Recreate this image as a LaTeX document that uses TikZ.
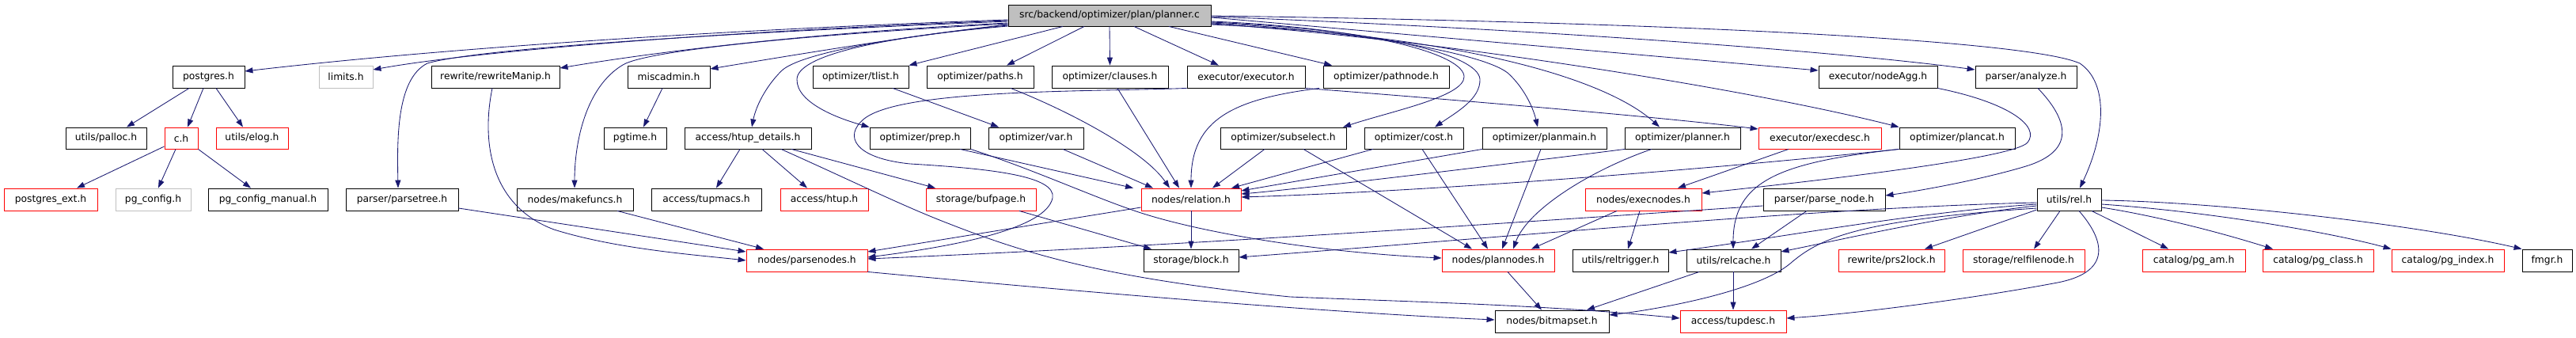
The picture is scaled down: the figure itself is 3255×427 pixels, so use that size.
\documentclass[tikz,border=0pt]{standalone}
\usepackage{fontspec}
\setmainfont{DejaVu Sans}
\usetikzlibrary{arrows.meta,calc}
\definecolor{edgecol}{HTML}{191970}
\definecolor{grayb}{HTML}{BFBFBF}
\definecolor{redb}{HTML}{FF0000}
\begin{document}
\begin{tikzpicture}[x=1pt,y=-1pt,
  box/.style={draw=black, line width=0.9pt, minimum height=28pt, inner sep=0pt,
    font=\fontsize{12.3}{14}\selectfont, text=black, anchor=center},
  redbox/.style={box, draw=redb},
  graybox/.style={box, draw=grayb},
  rootbox/.style={box, fill=grayb, minimum height=27pt},
  edge/.style={draw=edgecol, line width=0.85pt, -{Triangle[length=10pt,width=7pt]}}]
\useasboundingbox (0,0) rectangle (3255,427);
% row 0
\node[rootbox, minimum width=256pt] (root) at (1402,19.5) {src/backend/optimizer/plan/planner.c};
% row 1
\node[box, minimum width=91pt] (postgres) at (263.5,97) {postgres.h};
\node[graybox, minimum width=68pt] (limits) at (437,97) {limits.h};
\node[box, minimum width=162pt] (rewriteManip) at (626,97) {rewrite/rewriteManip.h};
\node[box, minimum width=104pt] (miscadmin) at (845,97) {miscadmin.h};
\node[box, minimum width=121pt] (tlist) at (1087.5,97) {optimizer/tlist.h};
\node[box, minimum width=135pt] (paths) at (1238.5,97) {optimizer/paths.h};
\node[box, minimum width=147pt] (clauses) at (1402.5,97) {optimizer/clauses.h};
\node[box, minimum width=149pt] (executor) at (1574.5,97) {executor/executor.h};
\node[box, minimum width=159pt] (pathnode) at (1751.5,97) {optimizer/pathnode.h};
\node[box, minimum width=150pt] (nodeAgg) at (2373,97) {executor/nodeAgg.h};
\node[box, minimum width=128pt] (analyze) at (2560,97) {parser/analyze.h};
% row 2
\tikzset{r2/.style={minimum height=27pt}}
\node[box, r2, minimum width=102pt] (palloc) at (134,174.5) {utils/palloc.h};
\node[redbox, r2, minimum width=42pt] (ch) at (229,174.5) {c.h};
\node[redbox, r2, minimum width=91pt] (elog) at (318.5,174.5) {utils/elog.h};
\node[box, r2, minimum width=79pt] (pgtime) at (802.5,174.5) {pgtime.h};
\node[box, r2, minimum width=160pt] (htupd) at (945,174.5) {access/htup\_details.h};
\node[box, r2, minimum width=127pt] (prep) at (1162.5,174.5) {optimizer/prep.h};
\node[box, r2, minimum width=120pt] (var) at (1309,174.5) {optimizer/var.h};
\node[box, r2, minimum width=159pt] (subselect) at (1621.5,174.5) {optimizer/subselect.h};
\node[box, r2, minimum width=125pt] (cost) at (1786.5,174.5) {optimizer/cost.h};
\node[box, r2, minimum width=157pt] (planmain) at (1951.5,174.5) {optimizer/planmain.h};
\node[box, r2, minimum width=146pt] (planner) at (2126,174.5) {optimizer/planner.h};
\node[redbox, r2, minimum width=155pt] (execdesc) at (2299.5,174.5) {executor/execdesc.h};
\node[box, r2, minimum width=146pt] (plancat) at (2473,174.5) {optimizer/plancat.h};
% row 3
\node[redbox, minimum width=118pt] (pgext) at (64,252) {postgres\_ext.h};
\node[graybox, minimum width=95pt] (pgconfig) at (193.5,252) {pg\_config.h};
\node[box, minimum width=151pt] (pgcfgman) at (338.5,252) {pg\_config\_manual.h};
\node[box, minimum width=142pt] (parsetree) at (508,252) {parser/parsetree.h};
\node[box, minimum width=147pt] (makefuncs) at (726.5,252) {nodes/makefuncs.h};
\node[box, minimum width=139pt] (tupmacs) at (892.5,252) {access/tupmacs.h};
\node[redbox, minimum width=111pt] (htup) at (1041.5,252) {access/htup.h};
\node[redbox, minimum width=139pt] (bufpage) at (1239.5,252) {storage/bufpage.h};
\node[redbox, minimum width=126pt] (relation) at (1505,252) {nodes/relation.h};
\node[redbox, minimum width=147pt] (execnodes) at (2076.5,252) {nodes/execnodes.h};
\node[box, minimum width=154pt] (parsenode) at (2305,252) {parser/parse\_node.h};
\node[box, minimum width=81pt] (rel) at (2614.5,252) {utils/rel.h};
% row 4
\node[redbox, minimum width=153pt] (parsenodes) at (1019.5,329) {nodes/parsenodes.h};
\node[box, minimum width=120pt] (block) at (1505,329) {storage/block.h};
\node[redbox, minimum width=142pt] (plannodes) at (1893,329) {nodes/plannodes.h};
\node[box, minimum width=121pt] (reltrigger) at (2047.5,329) {utils/reltrigger.h};
\node[box, minimum width=119pt] (relcache) at (2190.5,329) {utils/relcache.h};
\node[redbox, minimum width=134pt] (prs2lock) at (2390,329) {rewrite/prs2lock.h};
\node[redbox, minimum width=154pt] (relfilenode) at (2557,329) {storage/relfilenode.h};
\node[redbox, minimum width=130pt] (pgam) at (2772,329) {catalog/pg\_am.h};
\node[redbox, minimum width=140pt] (pgclass) at (2929,329) {catalog/pg\_class.h};
\node[redbox, minimum width=142pt] (pgindex) at (3093,329) {catalog/pg\_index.h};
\node[box, minimum width=63pt] (fmgr) at (3218.5,329) {fmgr.h};
% row 5
\node[box, minimum width=144pt] (bitmapset) at (1961,406) {nodes/bitmapset.h};
\node[redbox, minimum width=134pt] (tupdesc) at (2190,406) {access/tupdesc.h};

% ---- root, left side
\draw[edge] (root.west |- 0,25) .. controls (900,38) and (550,62) .. (postgres.east |- 0,90);
\draw[edge] (root.west |- 0,26) .. controls (900,40) and (600,65) .. (limits.east |- 0,88);
\draw[edge] (root.west |- 0,27) .. controls (900,42) and (600,62) .. (540,80) .. controls (500,100) and (502,180) .. (parsetree.north -| 503,0);
\draw[edge] (root.west |- 0,29) .. controls (1050,40) and (850,62) .. (rewriteManip.east |- 0,86);
\draw[edge] (root.west |- 0,30) .. controls (1050,42) and (820,62) .. (787,82) .. controls (740,110) and (726,180) .. (makefuncs.north -| 726,0);
\draw[edge] (root.west |- 0,31) .. controls (1150,45) and (1000,70) .. (miscadmin.east |- 0,87);
\draw[edge] (root.west |- 0,32) .. controls (1150,44) and (1010,66) .. (987,90) .. controls (967,110) and (955,135) .. (htupd.north -| 950,0);
\draw[edge] (root.west |- 0,33) .. controls (1100,48) and (1008,72) .. (1007,100) .. controls (1006,130) and (1060,150) .. (prep.north west);
% ---- root, bottom
\draw[edge] (root.south -| 1343,0) -- (tlist.north east);
\draw[edge] (root.south -| 1370,0) -- (paths.north -| 1272,0);
\draw[edge] (root.south) -- (clauses.north);
\draw[edge] (root.south -| 1433,0) -- (executor.north -| 1540,0);
\draw[edge] (root.south -| 1477,0) -- (pathnode.north -| 1683,0);
% ---- root, right side
\draw[edge] (root.east |- 0,22) -- (nodeAgg.west |- 0,89);
\draw[edge] (root.east |- 0,21) .. controls (1900,35) and (2300,62) .. (analyze.west |- 0,88);
\draw[edge] (root.east |- 0,20) .. controls (2100,28) and (2560,50) .. (2628,80) .. controls (2665,105) and (2660,170) .. (rel.north -| 2628,0);
\draw[edge] (root.east |- 0,30) .. controls (1800,48) and (2200,110) .. (plancat.north west);
\draw[edge] (root.east |- 0,31) .. controls (1850,45) and (2030,100) .. (planner.north -| 2097,0);
\draw[edge] (root.east |- 0,29) .. controls (1700,38) and (1870,65) .. (1905,92) .. controls (1925,110) and (1937,135) .. (planmain.north -| 1943,0);
\draw[edge] (root.east |- 0,28) .. controls (1750,38) and (1868,70) .. (1870,100) .. controls (1871,125) and (1840,142) .. (cost.north -| 1813,0);
\draw[edge] (root.east |- 0,27) .. controls (1740,36) and (1850,70) .. (1850,97) .. controls (1850,122) and (1760,140) .. (subselect.north -| 1697,0);
% ---- postgres.h, c.h, miscadmin.h
\draw[edge] (postgres.south -| 239,0) -- (palloc.north -| 160,0);
\draw[edge] (postgres.south -| 257,0) -- (ch.north -| 237,0);
\draw[edge] (postgres.south -| 273,0) -- (elog.north -| 307,0);
\draw[edge] (ch.west |- 0,185) -- (pgext.north -| 97,0);
\draw[edge] (ch.south -| 222,0) -- (pgconfig.north -| 200,0);
\draw[edge] (ch.south east) -- (pgcfgman.north -| 317,0);
\draw[edge] (miscadmin.south -| 837,0) -- (pgtime.north -| 813,0);
% ---- parsenodes sources
\draw[edge] (parsetree.east |- 0,263) -- (parsenodes.west |- 0,318);
\draw[edge] (makefuncs.south -| 780,0) -- (parsenodes.north -| 965,0);
\draw[edge] (rewriteManip.south -| 622,0) .. controls (608,180) and (620,260) .. (700,290) .. controls (780,315) and (880,322) .. (parsenodes.west |- 0,329);
% ---- htup_details
\draw[edge] (htupd.south -| 935,0) -- (tupmacs.north -| 905,0);
\draw[edge] (htupd.south -| 963,0) -- (htup.north -| 1020,0);
\draw[edge] (htupd.south -| 1000,0) -- (bufpage.north -| 1182,0);
\draw[edge] (htupd.south -| 987,0) .. controls (1080,230) and (1140,260) .. (1200,283) .. controls (1300,322) and (1400,352) .. (1630,375) .. controls (1800,382) and (1950,385) .. (tupdesc.west |- 0,402);
% ---- executor
\draw[edge] (executor.south east) .. controls (1850,127) and (2100,148) .. (execdesc.west |- 0,163);
\draw[edge] (executor.south west) .. controls (1380,116) and (1140,112) .. (1092,150) .. controls (1065,172) and (1080,200) .. (1150,207) .. controls (1250,213) and (1335,222) .. (1330,250) .. controls (1322,290) and (1200,312) .. (parsenodes.east |- 0,325);
% ---- optimizer headers
\draw[edge] (tlist.south -| 1128,0) -- (var.north -| 1262,0);
\draw[edge] (paths.south -| 1277,0) .. controls (1350,140) and (1445,190) .. (relation.north -| 1478,0);
\draw[edge] (var.south -| 1343,0) -- (relation.north -| 1457,0);
\draw[edge] (prep.south -| 1213,0) -- (relation.north -| 1432,0);
\draw[edge] (prep.south east) .. controls (1300,212) and (1380,248) .. (1430,265) .. controls (1500,290) and (1650,318) .. (plannodes.west |- 0,326);
\draw[edge] (clauses.south -| 1412,0) -- (relation.north -| 1490,0);
\draw[edge] (pathnode.south -| 1667,0) .. controls (1560,125) and (1505,150) .. (relation.north -| 1505,0);
\draw[edge] (subselect.south -| 1598,0) -- (relation.north -| 1532,0);
\draw[edge] (cost.south -| 1735,0) -- (relation.north -| 1556,0);
\draw[edge] (planmain.south -| 1873,0) -- (relation.east |- 0,241);
\draw[edge] (planner.south -| 2053,0) .. controls (1900,208) and (1650,238) .. (relation.east |- 0,245);
\draw[edge] (plancat.south west) .. controls (2150,215) and (1800,242) .. (relation.east |- 0,249);
\draw[edge] (plancat.south west) .. controls (2250,205) and (2190,228) .. (relcache.north -| 2190,0);
\draw[edge] (subselect.south -| 1647,0) -- (plannodes.north -| 1860,0);
\draw[edge] (cost.south -| 1797,0) -- (plannodes.north -| 1880,0);
\draw[edge] (planmain.south -| 1947,0) -- (plannodes.north -| 1898,0);
\draw[edge] (planner.south -| 2087,0) .. controls (2010,215) and (1930,265) .. (plannodes.north -| 1912,0);
% ---- executor nodes
\draw[edge] (execnodes.south -| 2043,0) -- (plannodes.north -| 1935,0);
\draw[edge] (execnodes.south -| 2072,0) -- (reltrigger.north -| 2057,0);
\draw[edge] (execdesc.south -| 2260,0) -- (execnodes.north -| 2120,0);
\draw[edge] (nodeAgg.south east) .. controls (2540,130) and (2578,160) .. (2562,180) .. controls (2545,200) and (2300,228) .. (execnodes.east |- 0,244);
% ---- parser
\draw[edge] (analyze.south -| 2575,0) .. controls (2612,150) and (2625,190) .. (2560,210) .. controls (2500,228) and (2420,242) .. (parsenode.east |- 0,247);
\draw[edge] (parsenode.west |- 0,260) .. controls (1900,282) and (1500,310) .. (parsenodes.east |- 0,327);
\draw[edge] (parsenode.south -| 2283,0) -- (relcache.north -| 2213,0);
% ---- relation, bufpage, parsenodes, plannodes, relcache
\draw[edge] (relation.west |- 0,262) -- (parsenodes.east |- 0,318);
\draw[edge] (relation.south) -- (block.north);
\draw[edge] (bufpage.south -| 1288,0) -- (block.north -| 1455,0);
\draw[edge] (parsenodes.south east) .. controls (1400,372) and (1700,396) .. (bitmapset.west |- 0,404);
\draw[edge] (plannodes.south -| 1905,0) -- (bitmapset.north -| 1948,0);
\draw[edge] (relcache.south -| 2147,0) -- (bitmapset.north -| 2005,0);
\draw[edge] (relcache.south -| 2190,0) -- (tupdesc.north -| 2190,0);
% ---- utils/rel.h
\draw[edge] (rel.west |- 0,256) .. controls (2300,262) and (1900,300) .. (block.east |- 0,325);
\draw[edge] (rel.west |- 0,258) .. controls (2420,268) and (2250,300) .. (reltrigger.east |- 0,319);
\draw[edge] (rel.west |- 0,260) .. controls (2460,272) and (2330,302) .. (relcache.east |- 0,318);
\draw[edge] (rel.west |- 0,263) .. controls (2350,278) and (2300,300) .. (2262,333) .. controls (2220,368) and (2100,390) .. (bitmapset.east |- 0,398);
\draw[edge] (rel.west |- 0,265) -- (prs2lock.north -| 2432,0);
\draw[edge] (rel.south -| 2603,0) -- (relfilenode.north -| 2570,0);
\draw[edge] (rel.south -| 2627,0) .. controls (2665,310) and (2662,345) .. (2600,357) .. controls (2500,376) and (2350,396) .. (tupdesc.east |- 0,402);
\draw[edge] (rel.south -| 2643,0) -- (pgam.north -| 2740,0);
\draw[edge] (rel.east |- 0,262) .. controls (2720,272) and (2800,292) .. (pgclass.north -| 2872,0);
\draw[edge] (rel.east |- 0,258) .. controls (2800,268) and (2950,295) .. (pgindex.north west);
\draw[edge] (rel.east |- 0,253) .. controls (2800,255) and (3050,283) .. (fmgr.north west);
\end{tikzpicture}
\end{document}
